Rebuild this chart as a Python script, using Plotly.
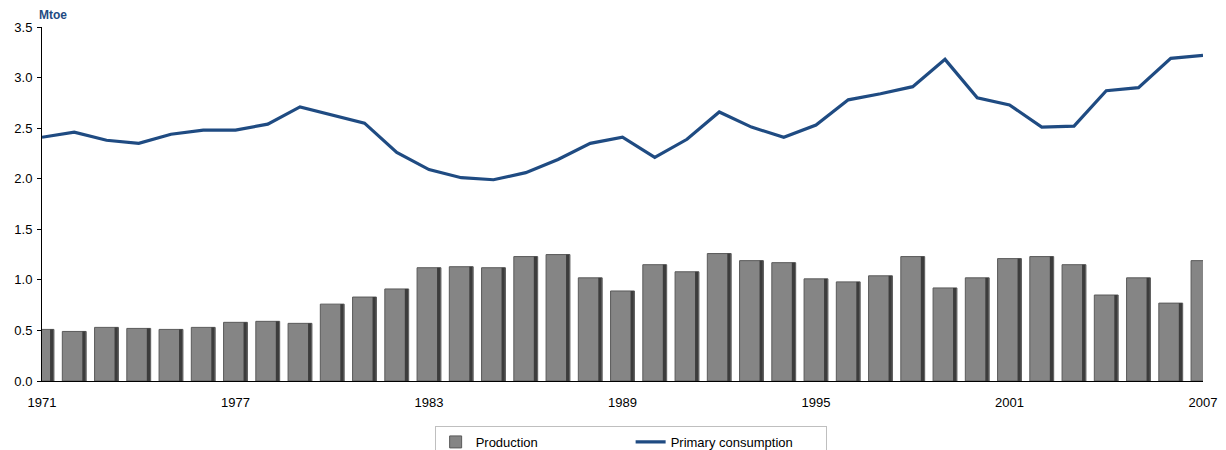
import plotly.graph_objects as go

years = list(range(1971, 2008))
production = [0.51, 0.49, 0.53, 0.52, 0.51, 0.53, 0.58, 0.59, 0.57, 0.76,
              0.83, 0.91, 1.12, 1.13, 1.12, 1.23, 1.25, 1.02, 0.89, 1.15,
              1.08, 1.26, 1.19, 1.17, 1.01, 0.98, 1.04, 1.23, 0.92, 1.02,
              1.21, 1.23, 1.15, 0.85, 1.02, 0.77, 1.19]
consumption = [2.41, 2.46, 2.38, 2.35, 2.44, 2.48, 2.48, 2.54, 2.71, 2.63,
               2.55, 2.26, 2.09, 2.01, 1.99, 2.06, 2.19, 2.35, 2.41, 2.21,
               2.39, 2.66, 2.51, 2.41, 2.53, 2.78, 2.84, 2.91, 3.18, 2.80,
               2.73, 2.51, 2.52, 2.87, 2.90, 3.19, 3.22]
x_ticks = [1971, 1977, 1983, 1989, 1995, 2001, 2007]
y_ticks = [0.0, 0.5, 1.0, 1.5, 2.0, 2.5, 3.0, 3.5]

fig = go.Figure()
fig.add_trace(go.Bar(
    x=years, y=production, name="Production", width=0.74,
    marker=dict(color="#858585", line=dict(color="#5a5a5a", width=1)),
))
# darker right-hand bevel of each bar
fig.add_trace(go.Bar(
    x=years, y=production, width=0.1, offset=0.25, showlegend=False,
    hoverinfo="skip", marker=dict(color="#3c3c3c", line=dict(width=0)),
))
fig.add_trace(go.Scatter(
    x=years, y=consumption, name="Primary consumption", mode="lines",
    line=dict(color="#1f4b82", width=3.2),
))

fig.update_layout(
    width=1218, height=442,
    margin=dict(l=34, r=23, t=19, b=69, autoexpand=False),
    paper_bgcolor="white", plot_bgcolor="white",
    font=dict(family="Liberation Sans, Arial", size=13, color="#000000"),
    barmode="overlay",
    showlegend=True,
    legend=dict(
        orientation="h", x=0.507, xanchor="center", y=-0.127, yanchor="top",
        bordercolor="#bfbfbf", borderwidth=1, bgcolor="white",
        font=dict(size=13), entrywidth=150, tracegroupgap=0,
    ),
    annotations=[dict(
        text="<b>Mtoe</b>", x=-0.004, xref="paper", xanchor="left",
        y=1.035, yref="paper", yanchor="middle", showarrow=False,
        font=dict(size=12, color="#1f4b82"),
    )],
)
fig.update_xaxes(
    range=[1971, 2007], tickvals=x_ticks, ticktext=[str(v) for v in x_ticks],
    showline=True, linecolor="black", linewidth=1, showgrid=False,
    zeroline=False, ticks="", ticklen=0, tickfont=dict(size=13),
    ticklabelstandoff=9, automargin=False,
)
fig.update_yaxes(
    range=[0, 3.5], tickvals=y_ticks, ticktext=[f"{v:.1f}" for v in y_ticks],
    showline=True, linecolor="black", linewidth=1, showgrid=False,
    zeroline=False, ticks="outside", ticklen=4, tickcolor="black",
    tickfont=dict(size=13), ticklabelstandoff=2, automargin=False,
)

fig.write_html("out.html")
